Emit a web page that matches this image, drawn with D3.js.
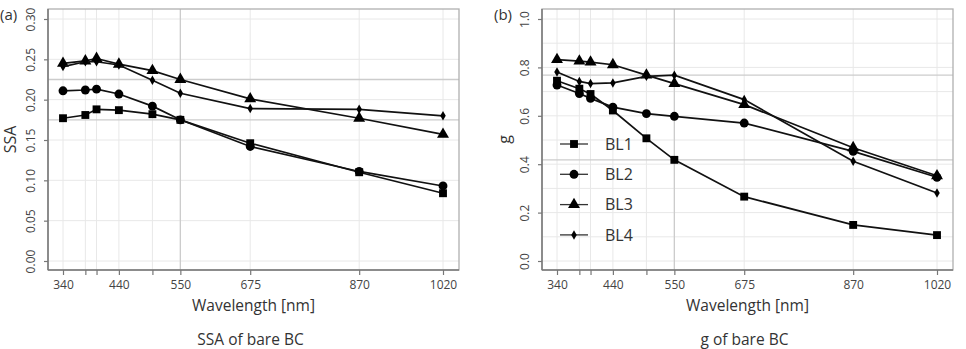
<!DOCTYPE html>
<html>
<head>
<meta charset="utf-8">
<script src="https://cdn.jsdelivr.net/npm/d3@7"></script>
<style>
  body { margin: 0; background: #fff; }
  text { font-family: "Open Sans", sans-serif; }
</style>
</head>
<body>
<script>
// wavelengths and tick labels
var wavelengths = [340, 380, 400, 440, 500, 550, 675, 870, 1020];
var xTickLabels = [340, 440, 550, 675, 870, 1020];
var seriesNames = ["BL1", "BL2", "BL3", "BL4"];

// SSA values (panel a)
var ssaBL1 = [0.177, 0.181, 0.188, 0.187, 0.182, 0.175, 0.146, 0.110, 0.084];
var ssaBL2 = [0.211, 0.212, 0.213, 0.207, 0.192, 0.175, 0.142, 0.111, 0.093];
var ssaBL3 = [0.245, 0.248, 0.251, 0.244, 0.236, 0.225, 0.201, 0.177, 0.157];
var ssaBL4 = [0.241, 0.247, 0.247, 0.243, 0.224, 0.208, 0.189, 0.188, 0.180];
var ssaTicks = [0.00, 0.05, 0.10, 0.15, 0.20, 0.25, 0.30];

// g values (panel b)
var gBL1 = [0.745, 0.712, 0.690, 0.622, 0.507, 0.418, 0.266, 0.149, 0.107];
var gBL2 = [0.727, 0.692, 0.672, 0.636, 0.609, 0.598, 0.570, 0.453, 0.346];
var gBL3 = [0.832, 0.826, 0.822, 0.811, 0.768, 0.733, 0.646, 0.468, 0.352];
var gBL4 = [0.781, 0.742, 0.733, 0.736, 0.763, 0.768, 0.667, 0.412, 0.281];
var gTicks = [0.0, 0.2, 0.4, 0.6, 0.8, 1.0];

var W = 966, H = 349;
var svg = d3.select("body").append("svg")
    .attr("width", W)
    .attr("height", H);

var symbols = [d3.symbolSquare, d3.symbolCircle, d3.symbolTriangle, d3.symbolDiamond];
var symSizes = [62, 62, 62, 26];

function panel(opt) {
  var box = opt.box; // left, right, top, bottom
  var x = d3.scaleLinear().domain([340, 1020]).range([box.left + 15, box.right - 16]);
  var y = d3.scaleLinear().domain(opt.ydomain).range([box.bottom - 9, box.top + 10]);
  var g = svg.append("g");

  // grid
  g.selectAll(".vgrid").data(wavelengths).enter().append("line")
      .attr("x1", d => x(d)).attr("x2", d => x(d))
      .attr("y1", box.top).attr("y2", box.bottom)
      .attr("stroke", "#e8e8e8").attr("stroke-width", 1);
  g.selectAll(".hgrid").data(opt.grid).enter().append("line")
      .attr("x1", box.left).attr("x2", box.right)
      .attr("y1", d => y(d)).attr("y2", d => y(d))
      .attr("stroke", "#e8e8e8").attr("stroke-width", 1);

  // reference lines at 550 nm (max and min)
  var at550 = opt.series.map(s => s[wavelengths.indexOf(550)]);
  [d3.max(at550), d3.min(at550)].forEach(function(v) {
    g.append("line")
        .attr("x1", box.left).attr("x2", box.right)
        .attr("y1", y(v)).attr("y2", y(v))
        .attr("stroke", "#cccccc").attr("stroke-width", 1.3);
  });
  g.append("line")
      .attr("x1", x(550)).attr("x2", x(550))
      .attr("y1", box.top).attr("y2", box.bottom)
      .attr("stroke", "#cccccc").attr("stroke-width", 1.3);

  // box
  g.append("rect")
      .attr("x", box.left).attr("y", box.top)
      .attr("width", box.right - box.left).attr("height", box.bottom - box.top)
      .attr("fill", "none").attr("stroke", "#b0b0b0").attr("stroke-width", 1.3);

  // x axis
  var xAxis = g.append("g")
      .attr("transform", "translate(0," + box.bottom + ")")
      .call(d3.axisBottom(x).tickValues(wavelengths).tickSize(5).tickPadding(5)
        .tickFormat(d => xTickLabels.indexOf(d) >= 0 ? d : ""));
  xAxis.select(".domain").attr("stroke", "#777").attr("stroke-width", 1.5)
      .attr("d", "M" + box.left + ",0H" + box.right);
  xAxis.selectAll(".tick line").attr("stroke", "#777").attr("stroke-width", 1.2);
  xAxis.selectAll(".tick text").attr("fill", "#444").style("font-size", "12px");

  // y axis
  var yAxis = g.append("g")
      .attr("transform", "translate(" + box.left + ",0)")
      .call(d3.axisLeft(y).tickValues(opt.ticks).tickSize(4).tickFormat(d3.format(opt.fmt)));
  yAxis.select(".domain").attr("stroke", "#777").attr("stroke-width", 1.5)
      .attr("d", "M0," + box.top + "V" + box.bottom);
  yAxis.selectAll(".tick line").attr("stroke", "#777").attr("stroke-width", 1.2);
  yAxis.selectAll(".tick text")
      .attr("fill", "#444").style("font-size", "12px")
      .attr("text-anchor", "middle").attr("dy", null).attr("x", null)
      .attr("transform", "translate(-16,0) rotate(-90)")
      .attr("dominant-baseline", "middle");

  // series
  var line = d3.line().x((d, i) => x(wavelengths[i])).y(d => y(d));
  opt.series.forEach(function(s, k) {
    g.append("path").datum(s)
        .attr("d", line).attr("fill", "none")
        .attr("stroke", "#111").attr("stroke-width", 1.7);
    g.selectAll(".pt" + k).data(s).enter().append("path")
        .attr("d", d3.symbol().type(symbols[k]).size(symSizes[k]))
        .attr("transform", (d, i) => "translate(" + x(wavelengths[i]) + "," + y(d) + ")")
        .attr("fill", "#000");
  });

  // labels
  var cx = (box.left + box.right) / 2;
  g.append("text").attr("x", cx).attr("y", 311)
      .attr("text-anchor", "middle").attr("fill", "#333")
      .style("font-size", "15.5px").text("Wavelength [nm]");
  g.append("text").attr("x", cx - 3).attr("y", 345)
      .attr("text-anchor", "middle").attr("fill", "#333")
      .style("font-size", "15.5px").text(opt.caption);
  g.append("text")
      .attr("transform", "translate(" + (box.left - 32) + "," + ((box.top + box.bottom) / 2) + ") rotate(-90)")
      .attr("text-anchor", "middle").attr("fill", "#333")
      .style("font-size", "16px").text(opt.ylabel);
  g.append("text").attr("x", box.left - 48).attr("y", 20)
      .attr("fill", "#333").style("font-size", "15px").text(opt.tag);
  return { x: x, y: y, g: g };
}

panel({
  box: { left: 48, right: 459, top: 9, bottom: 270 },
  ydomain: [0, 0.30], ticks: ssaTicks, grid: ssaTicks, fmt: ".2f",
  series: [ssaBL1, ssaBL2, ssaBL3, ssaBL4],
  caption: "SSA of bare BC", ylabel: "SSA", tag: "(a)"
});

var pb = panel({
  box: { left: 542, right: 953, top: 9, bottom: 270 },
  ydomain: [0, 1.0], ticks: gTicks, grid: d3.range(0, 1.01, 0.1), fmt: ".1f",
  series: [gBL1, gBL2, gBL3, gBL4],
  caption: "g of bare BC", ylabel: "g", tag: "(b)"
});

// legend in panel b
var leg = pb.g.selectAll(".leg").data(seriesNames).enter().append("g")
    .attr("transform", (d, i) => "translate(574," + (144 + i * 30.3) + ")");
leg.append("line").attr("x1", -14).attr("x2", 14)
    .attr("stroke", "#333").attr("stroke-width", 1.3);
leg.append("path")
    .attr("d", (d, i) => d3.symbol().type(symbols[i]).size(symSizes[i])())
    .attr("fill", "#000");
leg.append("text").attr("x", 31).attr("dy", "0.36em")
    .attr("fill", "#333").style("font-size", "16px").text(d => d);
</script>
</body>
</html>
